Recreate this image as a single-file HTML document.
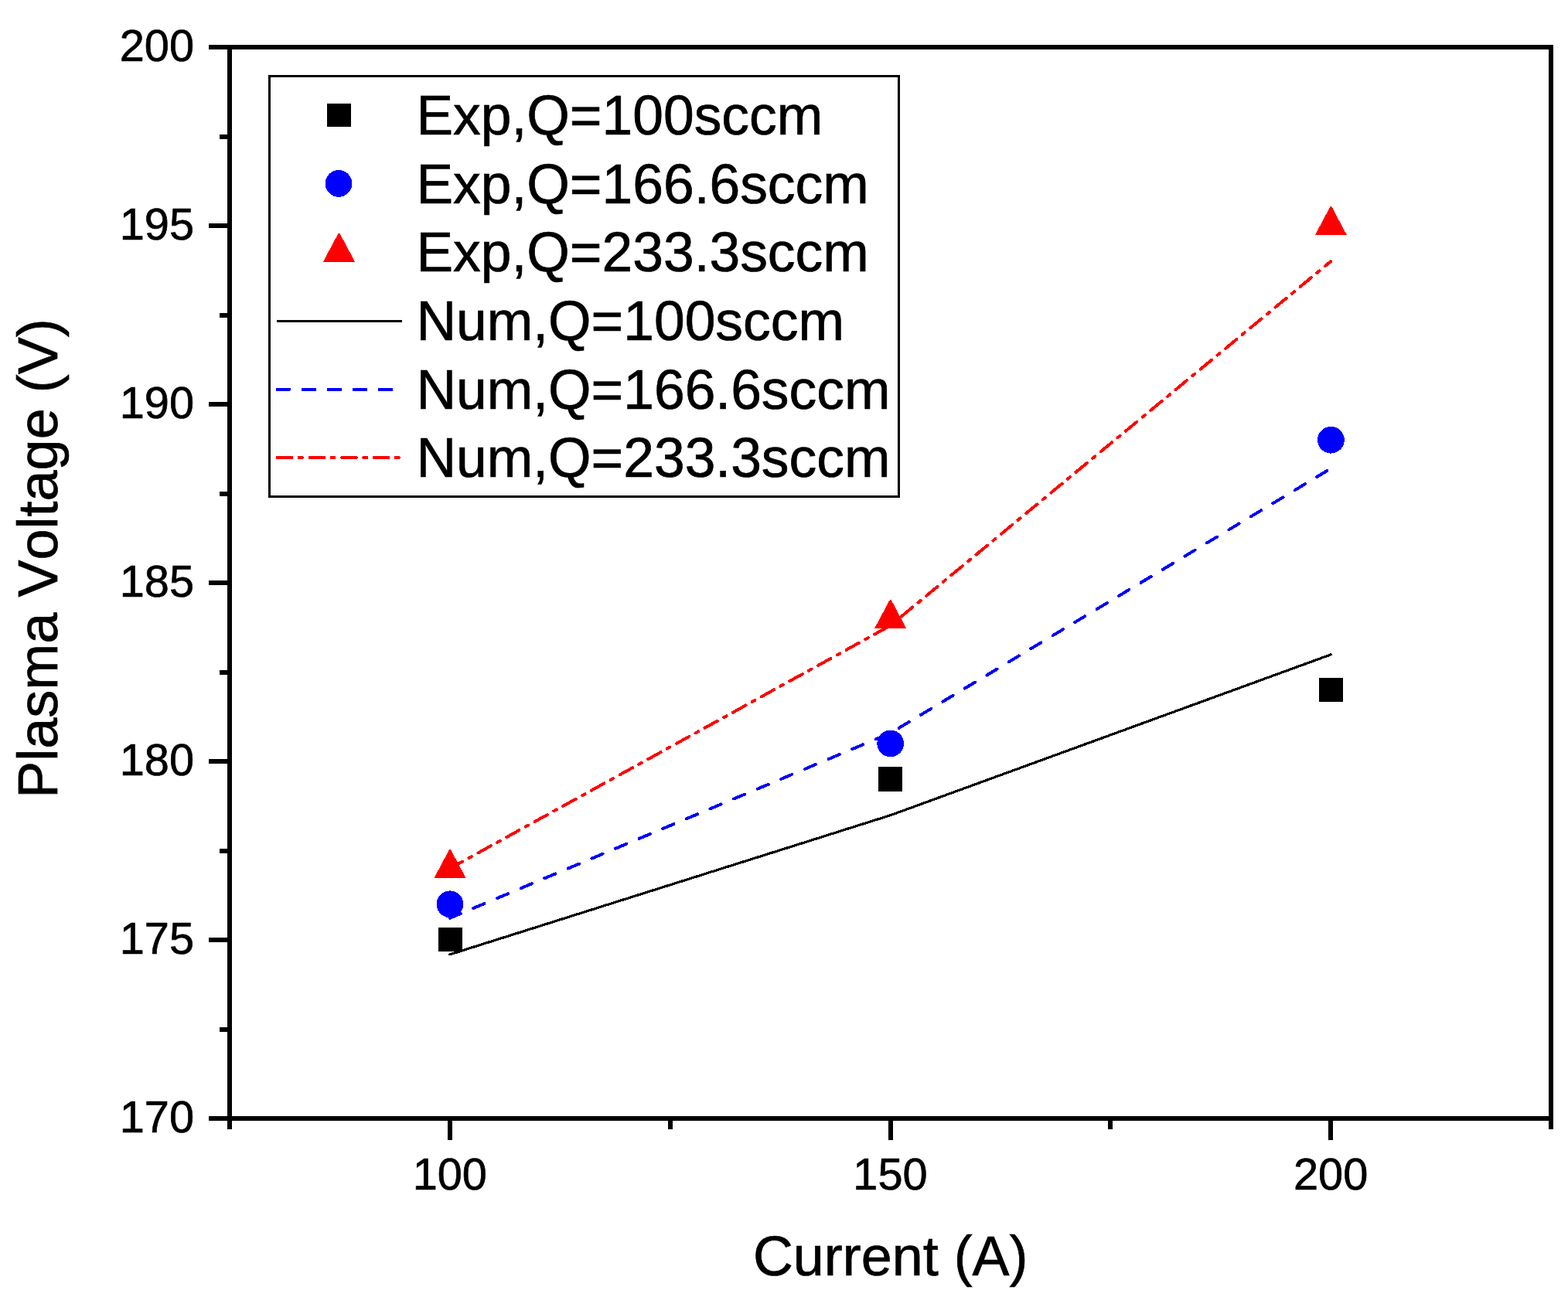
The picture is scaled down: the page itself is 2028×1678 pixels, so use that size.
<!DOCTYPE html>
<html lang="en">
<head>
<meta charset="utf-8">
<title>Plasma Voltage vs Current</title>
<style>
html,body{margin:0;padding:0;background:#fff;}
body{width:2028px;height:1678px;overflow:hidden;}
svg{display:block;}
text{font-family:"Liberation Sans",sans-serif;fill:#000;stroke:#000;stroke-width:0.7px;stroke-linejoin:miter;font-kerning:none;}
.tk{font-size:58.3px;}
.ti{font-size:73px;}
.lg{font-size:73px;}
</style>
</head>
<body>
<svg width="2028" height="1678" viewBox="0 0 2028 1678" shape-rendering="crispEdges">
<rect x="0" y="0" width="2028" height="1678" fill="#fff"/>
<g fill="#000" shape-rendering="crispEdges">
<rect x="270" y="58" width="1739" height="6"/>
<rect x="270" y="1444" width="1739" height="6"/>
<rect x="294" y="58" width="6" height="1403"/>
<rect x="2003" y="58" width="6" height="1403"/>
<rect x="270" y="1213" width="24" height="6"/>
<rect x="270" y="982" width="24" height="6"/>
<rect x="270" y="751" width="24" height="6"/>
<rect x="270" y="520" width="24" height="6"/>
<rect x="270" y="289" width="24" height="6"/>
<rect x="284" y="1329" width="10" height="6"/>
<rect x="284" y="1098" width="10" height="6"/>
<rect x="284" y="867" width="10" height="6"/>
<rect x="284" y="636" width="10" height="6"/>
<rect x="284" y="405" width="10" height="6"/>
<rect x="284" y="174" width="10" height="6"/>
<rect x="579" y="1450" width="6" height="25"/>
<rect x="1149" y="1450" width="6" height="25"/>
<rect x="1718" y="1450" width="6" height="25"/>
<rect x="864" y="1450" width="6" height="11"/>
<rect x="1433" y="1450" width="6" height="11"/>
</g>
<text class="tk" transform="translate(251 1464.8) scale(0.99 1)" text-anchor="end">170</text>
<text class="tk" transform="translate(251 1233.8) scale(0.99 1)" text-anchor="end">175</text>
<text class="tk" transform="translate(251 1002.8) scale(0.99 1)" text-anchor="end">180</text>
<text class="tk" transform="translate(251 771.8) scale(0.99 1)" text-anchor="end">185</text>
<text class="tk" transform="translate(251 540.8) scale(0.99 1)" text-anchor="end">190</text>
<text class="tk" transform="translate(251 309.8) scale(0.99 1)" text-anchor="end">195</text>
<text class="tk" transform="translate(251 78.8) scale(0.99 1)" text-anchor="end">200</text>
<text class="tk" transform="translate(581.833 1539) scale(0.99 1)" text-anchor="middle">100</text>
<text class="tk" transform="translate(1151.5 1539) scale(0.99 1)" text-anchor="middle">150</text>
<text class="tk" transform="translate(1721.17 1539) scale(0.99 1)" text-anchor="middle">200</text>
<text class="ti" transform="translate(1151.7 1650.4) scale(0.985 1)" text-anchor="middle">Current (A)</text>
<text class="ti" transform="translate(74.1 722.5) rotate(-90) scale(0.987 1)" text-anchor="middle">Plasma Voltage (V)</text>
<g fill="none" stroke-linecap="round" stroke-linejoin="round" shape-rendering="crispEdges">
<polyline points="581.8,1234.9 1151.5,1054.8 1721.2,846.9" stroke="#000" stroke-width="3.2"/>
<polyline points="581.8,1187.8 1151.5,948.5 1721.2,606.2" stroke="#00f" stroke-width="4" stroke-dasharray="15.3 17.9"/>
<polyline points="581.8,1123.6 1151.5,809.4 1721.2,338.2" stroke="#f00" stroke-width="4" stroke-dasharray="18.7 9.46 4 9.67"/>
</g>
<g shape-rendering="crispEdges">
<rect x="567" y="1200" width="31" height="31" rx="1" fill="#000"/>
<rect x="1136" y="992" width="31" height="32" rx="1" fill="#000"/>
<rect x="1706" y="877" width="31" height="31" rx="1" fill="#000"/>
<circle cx="582.0" cy="1169.8" r="17.4" fill="#00f"/>
<circle cx="1151.7" cy="961.9" r="17.4" fill="#00f"/>
<circle cx="1721.4" cy="569.2" r="17.4" fill="#00f"/>
<polygon points="581.0,1099.2 583.0,1099.2 602.5,1135.8 561.5,1135.8" fill="#f00"/>
<polygon points="1150.7,776.2 1152.7,776.2 1172.2,812.8 1131.2,812.8" fill="#f00"/>
<polygon points="1720.4,267.4 1722.4,267.4 1741.9,304.0 1700.9,304.0" fill="#f00"/>
</g>
<rect x="348.5" y="98.5" width="814" height="544" fill="#fff" stroke="#000" stroke-width="3" shape-rendering="crispEdges"/>
<rect x="423" y="134" width="31" height="30" rx="1" fill="#000"/>
<circle cx="438.0" cy="237.4" r="17.4" fill="#00f"/>
<polygon points="437.5,302.0 439.5,302.0 459.0,338.6 418.0,338.6" fill="#f00"/>
<rect x="358" y="414" width="162" height="3" fill="#000" shape-rendering="crispEdges"/>
<g fill="none" stroke-linecap="round">
<line x1="358.8" y1="504" x2="516" y2="504" stroke="#00f" stroke-width="4" stroke-dasharray="15.2 17.83"/>
<line x1="358.9" y1="592" x2="518" y2="592" stroke="#f00" stroke-width="4" stroke-dasharray="18.6 9.3 4 9.75"/>
</g>
<text class="lg" transform="translate(538.5 174) scale(0.978 1)">Exp,Q=100sccm</text>
<text class="lg" transform="translate(538.5 263) scale(0.978 1)">Exp,Q=166.6sccm</text>
<text class="lg" transform="translate(538.5 351) scale(0.978 1)">Exp,Q=233.3sccm</text>
<text class="lg" transform="translate(538.5 440) scale(0.978 1)">Num,Q=100sccm</text>
<text class="lg" transform="translate(538.5 529) scale(0.978 1)">Num,Q=166.6sccm</text>
<text class="lg" transform="translate(538.5 617) scale(0.978 1)">Num,Q=233.3sccm</text>
</svg>
</body>
</html>
